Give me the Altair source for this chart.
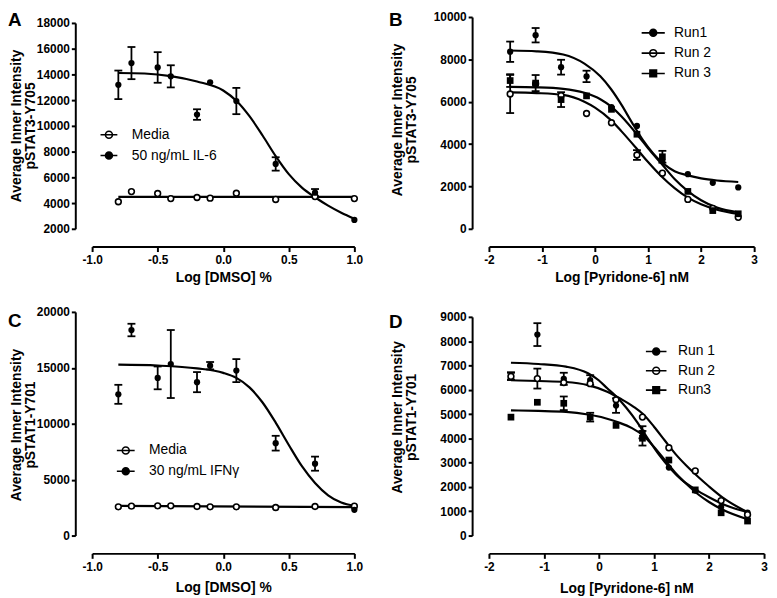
import altair as alt
import pandas as pd

FONT = "Liberation Sans"

# ---------------- Panel A : pSTAT3-Y705 vs DMSO ----------------
A_X = [-0.8, -0.7, -0.5, -0.4, -0.2, -0.1, 0.1, 0.4, 0.7, 1.0]
A_MEDIA = [4100, 4890, 4740, 4350, 4430, 4380, 4760, 4280, 4500, 4350]
A_MEDIA_ERR = [0, 0, 0, 0, 0, 0, 0, 0, 0, 0]
A_IL6 = [13190, 14880, 14540, 13850, 10880, 13390, 11930, 7040, 4810, 2690]
A_IL6_ERR = [1110, 1250, 1190, 860, 410, 0, 1020, 520, 280, 0]
A_MEDIA_FIT_X = [-0.8, 1.0]
A_MEDIA_FIT = [4480, 4480]
A_IL6_FIT_X = [-0.8, -0.6, -0.4, -0.2, 0.0, 0.1, 0.2, 0.3, 0.4, 0.5, 0.6, 0.7, 0.8, 0.9, 1.0]
A_IL6_FIT = [14110, 14070, 13870, 13450, 12750, 11950, 10750, 9250, 7650, 6250, 5200, 4450, 3800, 3250, 2780]

# ---------------- Panel B : pSTAT3-Y705 vs Pyridone-6 ----------------
B_X = [-1.6, -1.12, -0.64, -0.16, 0.31, 0.79, 1.27, 1.75, 2.22, 2.70]
B_RUN1 = [8360, 9140, 7630, 7195, 5750, 4857, 3200, 2580, 2170, 1950]
B_RUN1_ERR = [480, 340, 350, 270, 0, 0, 0, 0, 0, 0]
B_RUN2 = [6365, 6850, 6290, 5445, 5008, 3483, 2624, 1388, 965, 543]
B_RUN2_ERR = [900, 0, 0, 0, 0, 230, 0, 0, 0, 0]
B_RUN3 = [6999, 6880, 6100, 6275, 5640, 4465, 3400, 1765, 859, 709]
B_RUN3_ERR = [300, 380, 350, 0, 0, 0, 280, 0, 0, 0]
B_RUN1_FIT_X = [-1.6, -1.1, -0.6, -0.2, 0.1, 0.3, 0.5, 0.7, 0.9, 1.1, 1.3, 1.5, 1.75, 2.0, 2.3, 2.7]
B_RUN1_FIT = [8420, 8380, 8230, 7800, 7200, 6600, 5850, 5000, 4200, 3550, 3050, 2720, 2520, 2380, 2280, 2210]
B_RUN2_FIT_X = [-1.6, -1.1, -0.6, -0.2, 0.0, 0.3, 0.5, 0.8, 1.0, 1.25, 1.5, 1.75, 2.0, 2.3, 2.7]
B_RUN2_FIT = [6440, 6410, 6320, 6000, 5720, 5130, 4600, 3740, 3150, 2480, 1920, 1470, 1160, 900, 700]
B_RUN3_FIT_X = [-1.6, -1.1, -0.6, -0.2, 0.1, 0.3, 0.5, 0.8, 1.0, 1.25, 1.5, 1.75, 2.0, 2.3, 2.7]
B_RUN3_FIT = [6700, 6680, 6610, 6420, 6120, 5780, 5300, 4430, 3800, 3080, 2350, 1780, 1350, 1000, 780]

# ---------------- Panel C : pSTAT1-Y701 vs DMSO ----------------
C_X = [-0.8, -0.7, -0.5, -0.4, -0.2, -0.1, 0.1, 0.4, 0.7, 1.0]
C_MEDIA = [2570, 2630, 2660, 2660, 2600, 2570, 2570, 2510, 2600, 2630]
C_MEDIA_ERR = [0, 0, 0, 0, 0, 0, 0, 0, 0, 0]
C_IFN = [12630, 18380, 14100, 15340, 13720, 15190, 14750, 8260, 6430, 2300]
C_IFN_ERR = [850, 560, 1020, 3040, 900, 330, 1030, 660, 630, 0]
C_MEDIA_FIT_X = [-0.8, 1.0]
C_MEDIA_FIT = [2650, 2540]
C_IFN_FIT_X = [-0.8, -0.5, -0.2, 0.0, 0.1, 0.2, 0.3, 0.4, 0.5, 0.6, 0.7, 0.8, 0.9, 1.0]
C_IFN_FIT = [15280, 15200, 14950, 14550, 14100, 13250, 11900, 10100, 8100, 6200, 4700, 3600, 2950, 2650]

# ---------------- Panel D : pSTAT1-Y701 vs Pyridone-6 ----------------
D_X = [-1.6, -1.12, -0.64, -0.16, 0.31, 0.79, 1.27, 1.75, 2.22, 2.70]
D_RUN1 = [6570, 8270, 6450, 6400, 5350, 4250, 2800, 1850, 1180, 940]
D_RUN1_ERR = [150, 470, 250, 200, 300, 250, 0, 0, 0, 0]
D_RUN2 = [6550, 6460, 6300, 6250, 5590, 4875, 3612, 2660, 1438, 860]
D_RUN2_ERR = [150, 410, 0, 0, 0, 0, 0, 0, 0, 0]
D_RUN3 = [4873, 5485, 5443, 4873, 4534, 4004, 3108, 1880, 937, 597]
D_RUN3_ERR = [0, 0, 280, 180, 0, 300, 0, 0, 0, 0]
D_RUN1_FIT_X = [-1.6, -1.1, -0.6, -0.2, 0.0, 0.15, 0.3, 0.5, 0.7, 0.9, 1.1, 1.3, 1.5, 1.75, 2.0, 2.3, 2.7]
D_RUN1_FIT = [7110, 7060, 6950, 6680, 6380, 6060, 5750, 5250, 4650, 3950, 3300, 2750, 2300, 1900, 1580, 1250, 960]
D_RUN2_FIT_X = [-1.6, -1.1, -0.6, -0.2, 0.15, 0.4, 0.63, 0.8, 1.0, 1.2, 1.4, 1.6, 1.8, 2.0, 2.25, 2.7]
D_RUN2_FIT = [6390, 6360, 6320, 6190, 5920, 5620, 5300, 5000, 4480, 3900, 3330, 2850, 2420, 2020, 1560, 960]
D_RUN3_FIT_X = [-1.6, -1.1, -0.6, -0.2, 0.1, 0.35, 0.6, 0.8, 1.0, 1.2, 1.4, 1.6, 1.8, 2.0, 2.25, 2.7]
D_RUN3_FIT = [5150, 5130, 5090, 4980, 4840, 4660, 4420, 4120, 3650, 3100, 2550, 2100, 1700, 1380, 1060, 670]

Y3 = ["Average Inner Intensity", "pSTAT3-Y705"]
Y1 = ["Average Inner Intensity", "pSTAT1-Y701"]
MINUS = "replace(datum.label, '\u2212', '-')"


def circle_path(L):
    return f"M{-L},0H{L}M1,0A1,1,0,1,1,-1,0A1,1,0,1,1,1,0Z"


def square_path(L):
    return f"M{-L},0H{L}M-0.95,-0.95H0.95V0.95H-0.95Z"


def panel(tag, letter, letter_xy, xdom, xrange, xvals, xfmt, xtitle, xtitle_xy, xoffset,
          ydom, yrange, yvals, ytitle, ytitle_xy, series, leg):
    xs = alt.Scale(domain=xdom, range=xrange, nice=False, zero=False)
    ys = alt.Scale(domain=ydom, range=yrange, nice=False, zero=False)
    xax = alt.Axis(values=xvals, format=xfmt, labelExpr=MINUS, title=xtitle,
                   titleX=xtitle_xy[0], titleY=xtitle_xy[1], titleBaseline="alphabetic",
                   titleAlign="center", offset=xoffset)
    yax = alt.Axis(values=yvals, format="d", title=ytitle, titleX=ytitle_xy[0],
                   titleY=ytitle_xy[1], titleBaseline="alphabetic", titleAlign="center",
                   titleAngle=-90)

    def X(f):
        return alt.X(f, type="quantitative", scale=xs, axis=xax)

    def Y(f):
        return alt.Y(f, type="quantitative", scale=ys, axis=yax)

    fits, bars = [], []
    for s in series:
        fits.append(pd.DataFrame({"x": s["fx"], "y": s["fy"], "s": s["name"]}))
        for xv, yv, ev in zip(s["x"], s["y"], s["err"]):
            if ev > 0:
                bars.append({"x": xv, "lo": yv - ev, "hi": yv + ev})
    fit_df = pd.concat(fits, ignore_index=True)
    layers = [
        alt.Chart(fit_df).mark_line(color="black", strokeWidth=2.2, interpolate="monotone")
        .encode(x=X("x"), y=Y("y"), detail="s:N")
    ]
    if bars:
        bdf = pd.DataFrame(bars)
        layers.append(alt.Chart(bdf).mark_rule(color="black", strokeWidth=1.8)
                      .encode(x=X("x"), y=Y("lo"), y2="hi"))
        for f in ("lo", "hi"):
            layers.append(alt.Chart(bdf).mark_tick(orient="horizontal", size=8, thickness=1.8,
                                                   color="black", opacity=1)
                          .encode(x=X("x"), y=Y(f)))
    for s in series:
        pdf = pd.DataFrame({"x": s["x"], "y": s["y"]})
        if s["kind"] == "open":
            m = alt.Chart(pdf).mark_point(shape="circle", filled=True, fill="white", stroke="black",
                                          strokeWidth=1.6, size=34, opacity=1)
        elif s["kind"] == "square":
            m = alt.Chart(pdf).mark_point(shape="square", filled=True, color="black", size=46, opacity=1)
        else:
            m = alt.Chart(pdf).mark_point(shape="circle", filled=True, color="black", size=40, opacity=1)
        layers.append(m.encode(x=X("x"), y=Y("y")))

    names = [s["name"] for s in series]
    paths = [circle_path(leg["L"]) if s["kind"] != "square" else square_path(leg["L"]) for s in series]
    fills = ["white" if s["kind"] == "open" else "black" for s in series]
    strokes = ["black"] * len(series)
    legend = alt.Legend(orient="none", legendX=leg["x"], legendY=leg["y"], title=None,
                        direction="vertical", symbolSize=49, symbolStrokeWidth=1.6,
                        symbolOpacity=1, labelFont=FONT,
                        labelFontSize=14, labelFontWeight="normal", labelColor="black",
                        labelOffset=leg["off"], rowPadding=leg["rp"], padding=0)
    fld = "s" + tag + ":N"
    ldf = pd.DataFrame({"s" + tag: names, "x": [xdom[0]] * len(names), "y": [ydom[0]] * len(names)})
    layers.append(
        alt.Chart(ldf).transform_filter("false")
        .mark_point(filled=True, strokeWidth=1.6, opacity=1)
        .encode(x=X("x"), y=Y("y"),
                shape=alt.Shape(fld, scale=alt.Scale(domain=names, range=paths), legend=legend),
                fill=alt.Fill(fld, scale=alt.Scale(domain=names, range=fills), legend=legend),
                stroke=alt.Stroke(fld, scale=alt.Scale(domain=names, range=strokes), legend=legend))
    )
    layers.append(
        alt.Chart(pd.DataFrame({"t": [letter]}))
        .mark_text(align="left", baseline="top", font=FONT, fontSize=19, fontWeight="bold", color="black")
        .encode(text="t:N", x=alt.value(letter_xy[0]), y=alt.value(letter_xy[1]))
    )
    return alt.layer(*layers).properties(width=300, height=236)


pA = panel("a", "A", (-68, -2), [-1, 1], [17, 282], [-1, -0.5, 0, 0.5, 1], ".1f", "Log [DMSO] %",
           (149.5, 35), 0, [2000, 18000], [218, 10], list(range(2000, 18001, 2000)), Y3, (-55, 113.5),
           [dict(name="Media", kind="open", x=A_X, y=A_MEDIA, err=A_MEDIA_ERR, fx=A_MEDIA_FIT_X, fy=A_MEDIA_FIT),
            dict(name="50 ng/mL IL-6", kind="filled", x=A_X, y=A_IL6, err=A_IL6_ERR, fx=A_IL6_FIT_X, fy=A_IL6_FIT)],
           dict(x=27, y=116, off=16, rp=7, L=2.43))

pB = panel("b", "B", (-84, -2), [-2, 3], [17, 285], [-2, -1, 0, 1, 2, 3], "d", "Log [Pyridone-6] nM",
           (151, 35.5), 0, [0, 10000], [218, 4], list(range(0, 10001, 2000)), Y3, (-71.5, 107.5),
           [dict(name="Run1", kind="filled", x=B_X, y=B_RUN1, err=B_RUN1_ERR, fx=B_RUN1_FIT_X, fy=B_RUN1_FIT),
            dict(name="Run 2", kind="open", x=B_X, y=B_RUN2, err=B_RUN2_ERR, fx=B_RUN2_FIT_X, fy=B_RUN2_FIT),
            dict(name="Run 3", kind="square", x=B_X, y=B_RUN3, err=B_RUN3_ERR, fx=B_RUN3_FIT_X, fy=B_RUN3_FIT)],
           dict(x=176, y=13, off=14, rp=6.5, L=3.34))

pC = panel("c", "C", (-68, 7), [-1, 1], [17, 282], [-1, -0.5, 0, 0.5, 1], ".1f", "Log [DMSO] %",
           (149.5, 38.5), 15, [0, 20000], [233, 7], list(range(0, 20001, 5000)), Y1, (-55, 120.8),
           [dict(name="Media", kind="open", x=C_X, y=C_MEDIA, err=C_MEDIA_ERR, fx=C_MEDIA_FIT_X, fy=C_MEDIA_FIT),
            dict(name="30 ng/mL IFN\u03b3", kind="filled", x=C_X, y=C_IFN, err=C_IFN_ERR, fx=C_IFN_FIT_X, fy=C_IFN_FIT)],
           dict(x=44, y=140, off=16.5, rp=7, L=2.57))

pD = panel("d", "D", (-84, 8), [-2, 3], [17, 295], [-2, -1, 0, 1, 2, 3], "d", "Log [Pyridone-6] nM",
           (156, 40), 15, [0, 9000], [233, 12], list(range(0, 9001, 1000)), Y1, (-71.5, 113),
           [dict(name="Run 1", kind="filled", x=D_X, y=D_RUN1, err=D_RUN1_ERR, fx=D_RUN1_FIT_X, fy=D_RUN1_FIT),
            dict(name="Run 2", kind="open", x=D_X, y=D_RUN2, err=D_RUN2_ERR, fx=D_RUN2_FIT_X, fy=D_RUN2_FIT),
            dict(name="Run3", kind="square", x=D_X, y=D_RUN3, err=D_RUN3_ERR, fx=D_RUN3_FIT_X, fy=D_RUN3_FIT)],
           dict(x=179, y=40, off=15, rp=5.5, L=2.97))

chart = (
    alt.concat(pA, pB, pC, pD, columns=2, spacing={"row": 59, "column": 101}, bounds="flush")
    .resolve_scale(shape="independent", fill="independent", stroke="independent")
    .resolve_legend(shape="independent", fill="independent", stroke="independent")
    .properties(padding=0, background="white")
    .configure_view(stroke=None)
    .configure_axis(domainColor="black", domainWidth=2, tickColor="black", tickWidth=2,
                    labelColor="black", labelFont=FONT, labelFontSize=12, labelFontWeight="bold",
                    titleColor="black", titleFont=FONT, titleFontSize=14, titleFontWeight="bold",
                    titleLineHeight=14, grid=False, labelFlush=False, labelOverlap=False)
    .configure_axisX(tickSize=5, labelPadding=3)
    .configure_axisY(tickSize=4, labelPadding=2)
)

chart.save("out.html", embed_options={"renderer": "svg", "actions": False})
